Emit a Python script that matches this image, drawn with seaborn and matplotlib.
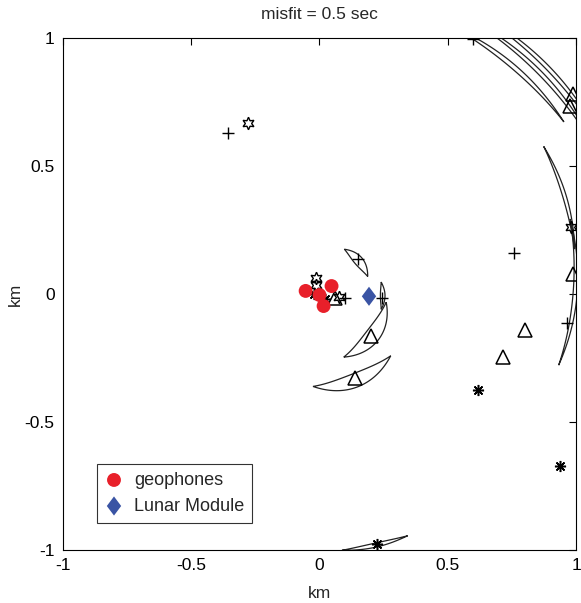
import numpy as np
import pandas as pd
import matplotlib
matplotlib.use("Agg")
import matplotlib.pyplot as plt
from matplotlib.path import Path
import seaborn as sns

# geophone array and lunar module (km)
geo_x = [-0.054, 0.0, 0.047, 0.016]
geo_y = [0.012, -0.004, 0.031, -0.047]
lm_x = [0.193]
lm_y = [-0.009]

# source locations by marker type
plus_x = [-0.357, 0.757, 0.600, 0.151, 0.245, 0.963, 0.100]
plus_y = [0.630, 0.161, 0.996, 0.137, -0.016, -0.114, -0.015]
tri_x = [0.800, 0.715, 0.202, 0.140, 0.990, 0.975, 0.987, 0.060]
tri_y = [-0.141, -0.247, -0.165, -0.330, 0.780, 0.735, 0.078, -0.015]
hex_x = [-0.280, 0.980, -0.012, -0.015, 0.075]
hex_y = [0.667, 0.260, 0.063, 0.035, -0.012]
ast_x = [0.617, 0.936, 0.225, -0.020, 0.020]
ast_y = [-0.376, -0.670, -0.976, 0.000, -0.020]

# misfit regions: arcs around the array (radius start/end, angle start/end in deg, half width)
arc_r0 = [0.200, 0.245, 0.262, 0.368, 1.005, 1.166, 1.222, 1.258, 1.047, 1.020]
arc_r1 = [0.200, 0.248, 0.264, 0.362, 1.005, 1.166, 1.215, 1.250, 1.010, 0.973]
arc_a0 = [61, 11, -7, -41, -85, 64, 62, 62, 33.4, 16.7]
arc_a1 = [20, -14, -69, -94, -70, 35.2, 28, 28, 10, -16.6]
arc_w = [0.017, 0.009, 0.028, 0.027, 0.008, 0.009, 0.008, 0.008, 0.007, 0.008]

sns.set_style("white")
plt.rcParams["font.family"] = ["Liberation Sans", "DejaVu Sans"]

fig = plt.figure(figsize=(5.81, 6.03), dpi=100)
ax = fig.add_axes([0.1084, 0.0879, 0.8830, 0.8491])

for r0, r1, a0, a1, w in zip(arc_r0, arc_r1, arc_a0, arc_a1, arc_w):
    t = np.linspace(0, 1, 80)
    th = np.radians(a0 + (a1 - a0) * t)
    r = r0 + (r1 - r0) * t
    bulge = w * np.sin(np.pi * t)
    ro, ri = r + bulge, r - bulge
    xs = np.concatenate([ro * np.cos(th), (ri * np.cos(th))[::-1]])
    ys = np.concatenate([ro * np.sin(th), (ri * np.sin(th))[::-1]])
    ax.fill(xs, ys, facecolor="none", edgecolor="#222222", linewidth=0.9)

ax.plot(plus_x, plus_y, "+", color="black", ms=8, mew=1.0, linestyle="none")
ax.plot(tri_x, tri_y, "^", mfc="none", mec="black", ms=10, mew=1.1, linestyle="none")
ax.plot(hex_x, hex_y, marker=(6, 1, 0), mfc="none", mec="black", ms=9, mew=1.0, linestyle="none")
ax.plot(ast_x, ast_y, marker=(8, 2, 0), color="black", ms=8, mew=1.1, linestyle="none")

# matlab-style diamond, a bit taller than wide
diamond = Path([(0, 1), (0.75, 0), (0, -1), (-0.75, 0), (0, 1)],
               [Path.MOVETO, Path.LINETO, Path.LINETO, Path.LINETO, Path.CLOSEPOLY])

geo_df = pd.DataFrame({"x": geo_x, "y": geo_y})
lm_df = pd.DataFrame({"x": lm_x, "y": lm_y})
sns.scatterplot(data=geo_df, x="x", y="y", ax=ax, color="#e8202a", s=100,
                edgecolor="none", label="geophones", zorder=5)
sns.scatterplot(data=lm_df, x="x", y="y", ax=ax, color="#3a54a4", marker=diamond, s=190,
                edgecolor="none", label="Lunar Module", zorder=5)

ax.set_xlim(-1, 1)
ax.set_ylim(-1, 1)
ax.set_xticks([-1, -0.5, 0, 0.5, 1])
ax.set_yticks([-1, -0.5, 0, 0.5, 1])
ax.set_xticklabels(["-1", "-0.5", "0", "0.5", "1"])
ax.set_yticklabels(["-1", "-0.5", "0", "0.5", "1"])
ax.tick_params(direction="in", length=5, width=0.8, top=True, right=True,
               labelsize=12.5, colors="black", pad=6)
for s in ax.spines.values():
    s.set_color("black")
    s.set_linewidth(0.8)
ax.set_xlabel("km", fontsize=12.5, labelpad=9)
ax.set_ylabel("km", fontsize=12.5, labelpad=1)
ax.set_title("misfit = 0.5 sec", fontsize=12.5, pad=14)

leg = ax.legend(loc="lower left", bbox_to_anchor=(0.066, 0.053), borderaxespad=0,
                fontsize=13, frameon=True, fancybox=False, edgecolor="black",
                handlelength=1.0, handletextpad=0.6, borderpad=0.45, labelspacing=0.5)
leg.get_frame().set_linewidth(0.8)

fig.savefig("out.png", dpi=100)
